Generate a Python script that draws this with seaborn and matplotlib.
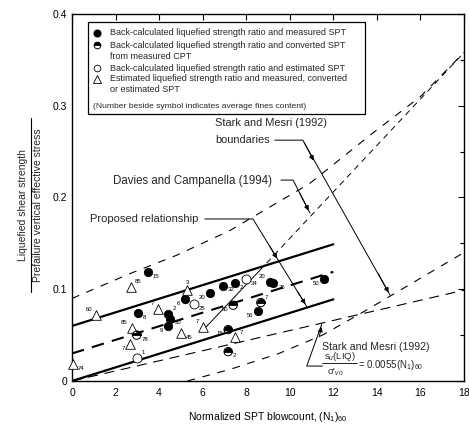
import numpy as np
import pandas as pd
import matplotlib
matplotlib.use("Agg")
import matplotlib.pyplot as plt
import seaborn as sns
from matplotlib.lines import Line2D
from matplotlib.patches import Rectangle
from matplotlib.markers import MarkerStyle

# ---------------- data ----------------
meas_x = [3.5, 3.04, 4.42, 4.5, 4.39, 5.2, 6.33, 6.94, 7.48, 9.08, 9.25, 11.56, 8.55]
meas_y = [0.119, 0.074, 0.0735, 0.068, 0.06, 0.089, 0.096, 0.104, 0.107, 0.108, 0.107, 0.111, 0.0764]
meas_fc = ["15", "8", "2", "30", "9", "6", "20", "32", "2", "20", "26", "50", "56"]

cpt_x = [2.97, 7.4, 8.67, 7.17, 7.17]
cpt_y = [0.05, 0.0826, 0.0855, 0.056, 0.032]
cpt_fc = ["78", "60", "7", "15", "2"]

est_x = [5.6, 8.0, 3.0]
est_y = [0.084, 0.1115, 0.025]
est_fc = ["25", "34", "1"]

tri_x = [2.7, 1.1, 0.03, 5.3, 3.96, 2.74, 2.66, 5.0, 6.02, 7.5]
tri_y = [0.1025, 0.072, 0.018, 0.099, 0.079, 0.058, 0.040, 0.052, 0.059, 0.0475]
tri_fc = ["85", "60", "74", "3", "7", "85", "7", "45", "7", "7"]

# proposed relationship (upper, middle, lower)
prop_x = [0, 12]
prop_upper = [0.06, 0.149]
prop_mid = [0.03, 0.119]
prop_lower = [0.0, 0.089]

# Stark and Mesri (1992) boundaries
smu_x = [0, 2.66, 4.8, 7.25, 10.9, 13.8, 16, 18]
smu_y = [0.09, 0.117, 0.137, 0.164, 0.215, 0.27, 0.31, 0.358]
sml_x = [5.3, 7.3, 9.5, 11.5, 13.5, 15.5, 18]
sml_y = [0.0, 0.013, 0.03, 0.05, 0.077, 0.105, 0.14]

# Stark and Mesri (1992) relation 0.0055 (N1)60
smr_x = [0, 18]
smr_y = [0.0, 0.099]

# Davies and Campanella (1994)
dc_solid_x = [6.0, 8.6]
dc_solid_y = [0.055, 0.12]
dc_dash_x = [8.6, 18]
dc_dash_y = [0.12, 0.358]

xticks = [0, 2, 4, 6, 8, 10, 12, 14, 16, 18]
yticks = [0, 0.1, 0.2, 0.3, 0.4]
yticklabels = ["0", "0.1", "0.2", "0.3", "0.4"]

# side of each fines-content label relative to its symbol
meas_side = ["r", "r", "ur", "r", "l", "l", "l", "r", "r", "ul", "r", "l", "l"]
cpt_side = ["r", "l", "ur", "l", "r"]
est_side = ["r", "r", "ur"]
tri_side = ["ur", "ul", "r", "a", "ul", "ul", "l", "r", "ul", "ur"]

# ---------------- figure ----------------
sns.set_theme(style="white")
plt.rcParams["font.family"] = ["Liberation Sans", "DejaVu Sans"]
plt.rcParams["mathtext.fontset"] = "custom"
plt.rcParams["mathtext.rm"] = "Liberation Sans"
plt.rcParams["mathtext.it"] = "Liberation Sans:italic"

W, H = 469, 430
fig = plt.figure(figsize=(W / 100, H / 100), dpi=100)
ax = fig.add_axes([72 / W, 1 - 381 / H, (464 - 72) / W, (381 - 14) / H])
ax.set_xlim(0, 18)
ax.set_ylim(0, 0.4)

K = "black"

def line(xs, ys, **kw):
    sns.lineplot(x=xs, y=ys, ax=ax, color=K, sort=False, estimator=None, legend=False, **kw)

line(prop_x, prop_upper, linewidth=1.6)
line(prop_x, prop_lower, linewidth=1.6)
line(prop_x, prop_mid, linewidth=1.5, dashes=(6, 4))
line(smu_x, smu_y, linewidth=0.8, dashes=(7, 7))
line(sml_x, sml_y, linewidth=0.8, dashes=(7, 7))
line(smr_x, smr_y, linewidth=0.8, dashes=(9, 6))
line(dc_solid_x, dc_solid_y, linewidth=0.7)
line(dc_dash_x, dc_dash_y, linewidth=0.7, dashes=(6, 5))

# points
ms = 36
sns.scatterplot(x=meas_x, y=meas_y, ax=ax, marker="o", s=ms, color=K, edgecolor=K, linewidth=0.6, zorder=5)
half = MarkerStyle("o", fillstyle="top")
sns.scatterplot(x=cpt_x, y=cpt_y, ax=ax, marker=half, s=ms, color=K, edgecolor=K, linewidth=0.6, zorder=5)
sns.scatterplot(x=cpt_x, y=cpt_y, ax=ax, marker="o", s=ms, facecolor="none", edgecolor=K, linewidth=0.7, zorder=6)
sns.scatterplot(x=est_x, y=est_y, ax=ax, marker="o", s=ms + 6, facecolor="white", edgecolor=K, linewidth=0.6, zorder=5)
sns.scatterplot(x=tri_x, y=tri_y, ax=ax, marker="^", s=ms + 12, facecolor="white", edgecolor=K, linewidth=0.6, zorder=5, clip_on=False)

OFF = {"r": (0.22, -0.002, "left", "top"), "l": (-0.22, -0.002, "right", "top"),
       "ur": (0.18, 0.003, "left", "bottom"), "ul": (-0.18, 0.003, "right", "bottom"),
       "a": (0.0, 0.006, "center", "bottom")}
for xs, ys, labs, sides in [(meas_x, meas_y, meas_fc, meas_side), (cpt_x, cpt_y, cpt_fc, cpt_side),
                            (est_x, est_y, est_fc, est_side), (tri_x, tri_y, tri_fc, tri_side)]:
    for xv, yv, lb, sd in zip(xs, ys, labs, sides):
        dx, dy, ha, va = OFF[sd]
        ax.text(xv + dx, yv + dy, lb, fontsize=4.3, color=K, ha=ha, va=va, zorder=7)

# axes styling
ax.set_xticks(xticks)
ax.set_yticks(yticks)
ax.set_yticklabels(yticklabels)
ax.set_yticks([0.05, 0.15, 0.25, 0.35], minor=True)
ax.tick_params(axis="both", which="both", direction="in", top=True, right=True, colors=K, labelsize=7.5, length=4, width=0.8)
ax.tick_params(axis="both", which="minor", length=3)
ax.tick_params(axis="x", pad=5)
for s in ax.spines.values():
    s.set_color(K)
    s.set_linewidth(1.0)
ax.set_xlabel("Normalized SPT blowcount, (N$_1$)$_{60}$", fontsize=7.5, labelpad=9, color=K)

# y label as a fraction
fig.text(23 / W, 1 - 205 / H, "Liquefied shear strength", rotation=90, fontsize=7.5, ha="center", va="center")
fig.text(38 / W, 1 - 205 / H, "Prefailure vertical effective stress", rotation=90, fontsize=7.5, ha="center", va="center")
fig.add_artist(Line2D([30.5 / W, 30.5 / W], [1 - 118 / H, 1 - 292 / H], color=K, linewidth=0.8, transform=fig.transFigure))

# legend box
ax.add_patch(Rectangle((0.735, 0.291), 13.45 - 0.735, 0.3913 - 0.291, facecolor="white", edgecolor=K, linewidth=0.9, zorder=8))
lx_m, lx_t = 1.15, 1.745
lfs = 6.5
ax.plot([lx_m], [0.3793], marker="o", color=K, markersize=4.8, zorder=9)
ax.plot([lx_m], [0.3662], marker="o", fillstyle="top", color=K, markerfacecoloralt="white", markersize=4.8, markeredgewidth=0.7, zorder=9)
ax.plot([lx_m], [0.3411], marker="o", color=K, markerfacecolor="white", markersize=4.8, markeredgewidth=0.6, zorder=9)
ax.plot([lx_m], [0.3292], marker="^", color=K, markerfacecolor="white", markersize=5.2, markeredgewidth=0.6, zorder=9)
for yv, t in [(0.3793, "Back-calculated liquefied strength ratio and measured SPT"),
              (0.3662, "Back-calculated liquefied strength ratio and converted SPT"),
              (0.3540, "from measured CPT"),
              (0.3411, "Back-calculated liquefied strength ratio and estimated SPT"),
              (0.3292, "Estimated liquefied strength ratio and measured, converted"),
              (0.3172, "or estimated SPT")]:
    ax.text(lx_t, yv, t, fontsize=lfs, va="center", ha="left", zorder=9)
ax.text(0.98, 0.2990, "(Number beside symbol indicates average fines content)", fontsize=lfs - 0.4, va="center", ha="left", zorder=9)

# annotations
ax.text(6.56, 0.281, "Stark and Mesri (1992)", fontsize=7.9, va="center", ha="left")
ax.text(6.56, 0.2625, "boundaries", fontsize=7.9, va="center", ha="left")
ax.plot([9.31, 10.6, 14.6], [0.2625, 0.2625, 0.0937], color=K, linewidth=0.7)
arrow = dict(arrowstyle="-|>", color=K, linewidth=0.7, mutation_scale=7)
ax.annotate("", xy=(11.16, 0.2375), xytext=(10.6, 0.2625), arrowprops=arrow)
ax.annotate("", xy=(14.6, 0.0937), xytext=(14.0, 0.12), arrowprops=arrow)

ax.text(1.9, 0.2185, "Davies and Campanella (1994)", fontsize=8.3, va="center", ha="left")
ax.plot([9.6, 10.15, 10.93], [0.219, 0.219, 0.183], color=K, linewidth=0.7)
ax.annotate("", xy=(10.93, 0.183), xytext=(10.4, 0.207), arrowprops=arrow)

ax.text(0.82, 0.1766, "Proposed relationship", fontsize=8.0, va="center", ha="left")
ax.plot([6.1, 8.31, 10.78], [0.1766, 0.1766, 0.081], color=K, linewidth=0.7)
ax.annotate("", xy=(9.48, 0.131), xytext=(9.0, 0.150), arrowprops=arrow)
ax.annotate("", xy=(10.78, 0.081), xytext=(10.3, 0.100), arrowprops=arrow)

ax.text(11.47, 0.0375, "Stark and Mesri (1992)", fontsize=7.6, va="center", ha="left")
ax.text(12.3, 0.0262, "s$_u$(LIQ)", fontsize=6.8, va="center", ha="center")
ax.plot([11.5, 13.07], [0.0195, 0.0195], color=K, linewidth=0.6)
ax.text(12.1, 0.0098, "σ$'_{vo}$", fontsize=6.8, va="center", ha="center")
ax.text(13.15, 0.0170, "= 0.0055(N$_1$)$_{60}$", fontsize=7.0, va="center", ha="left")
ax.plot([11.5, 10.78, 11.47], [0.0163, 0.0163, 0.062], color=K, linewidth=0.7)
ax.annotate("", xy=(11.47, 0.062), xytext=(11.33, 0.045), arrowprops=arrow)

fig.savefig("out.png", dpi=100)
